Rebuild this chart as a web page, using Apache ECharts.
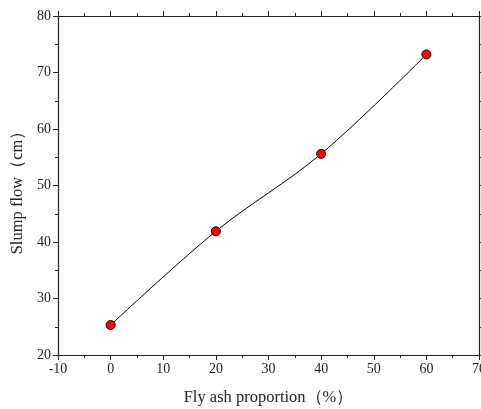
<!DOCTYPE html>
<html>
<head>
<meta charset="utf-8">
<script src="https://cdn.jsdelivr.net/npm/echarts@6/dist/echarts.min.js"></script>
<style>
  html, body { margin: 0; padding: 0; background: #fff; }
  #chart { width: 481px; height: 409px; }
</style>
</head>
<body>
<div id="chart"></div>
<script>
// 数据
const flyAsh = [0, 20, 40, 60];
const slump = [25.3, 41.9, 55.6, 73.2];

const font = 'Liberation Serif';
const axisLine = { lineStyle: { color: '#222', width: 1.2 } };

function frameAxis(pos, min, max, interval) {
    return {
        type: 'value', position: pos, min: min, max: max, interval: interval,
        axisLine: Object.assign({ show: true, onZero: false }, axisLine),
        axisTick: { show: true, inside: false, length: 5, lineStyle: { color: '#222' } },
        minorTick: { show: true, splitNumber: 2, length: 3, lineStyle: { color: '#222' } },
        axisLabel: { show: false },
        splitLine: { show: false }
    };
}

const chart = echarts.init(document.getElementById('chart'));
const xMain = frameAxis('bottom', -10, 70, 10);
xMain.axisLabel = { show: true, fontFamily: font, fontSize: 14, color: '#222', margin: 7 };
xMain.name = 'Fly ash proportion（%）';
xMain.nameLocation = 'middle';
xMain.nameGap = 34;
xMain.nameTextStyle = { fontFamily: font, fontSize: 16.5, color: '#222' };

const yMain = frameAxis('left', 20, 80, 10);
yMain.axisLabel = { show: true, fontFamily: font, fontSize: 14, color: '#222', margin: 7 };
yMain.name = 'Slump flow（cm）';
yMain.nameLocation = 'middle';
yMain.nameGap = 27;
yMain.nameTextStyle = { fontFamily: font, fontSize: 16.5, color: '#222', padding: [0, 6, 0, 0] };

chart.setOption({
    animation: false,
    grid: { left: 58, right: 2, top: 16, bottom: 54, outerBoundsMode: 'none' },
    xAxis: [xMain, frameAxis('top', -10, 70, 10)],
    yAxis: [yMain, frameAxis('right', 20, 80, 10)],
    series: [{
        type: 'line',
        data: flyAsh.map((x, i) => [x, slump[i]]),
        smooth: 0.35,
        symbol: 'circle',
        symbolSize: 9,
        lineStyle: { color: '#000', width: 1 },
        itemStyle: { color: '#ff0000', borderColor: '#000', borderWidth: 1 }
    }]
});
</script>
</body>
</html>
